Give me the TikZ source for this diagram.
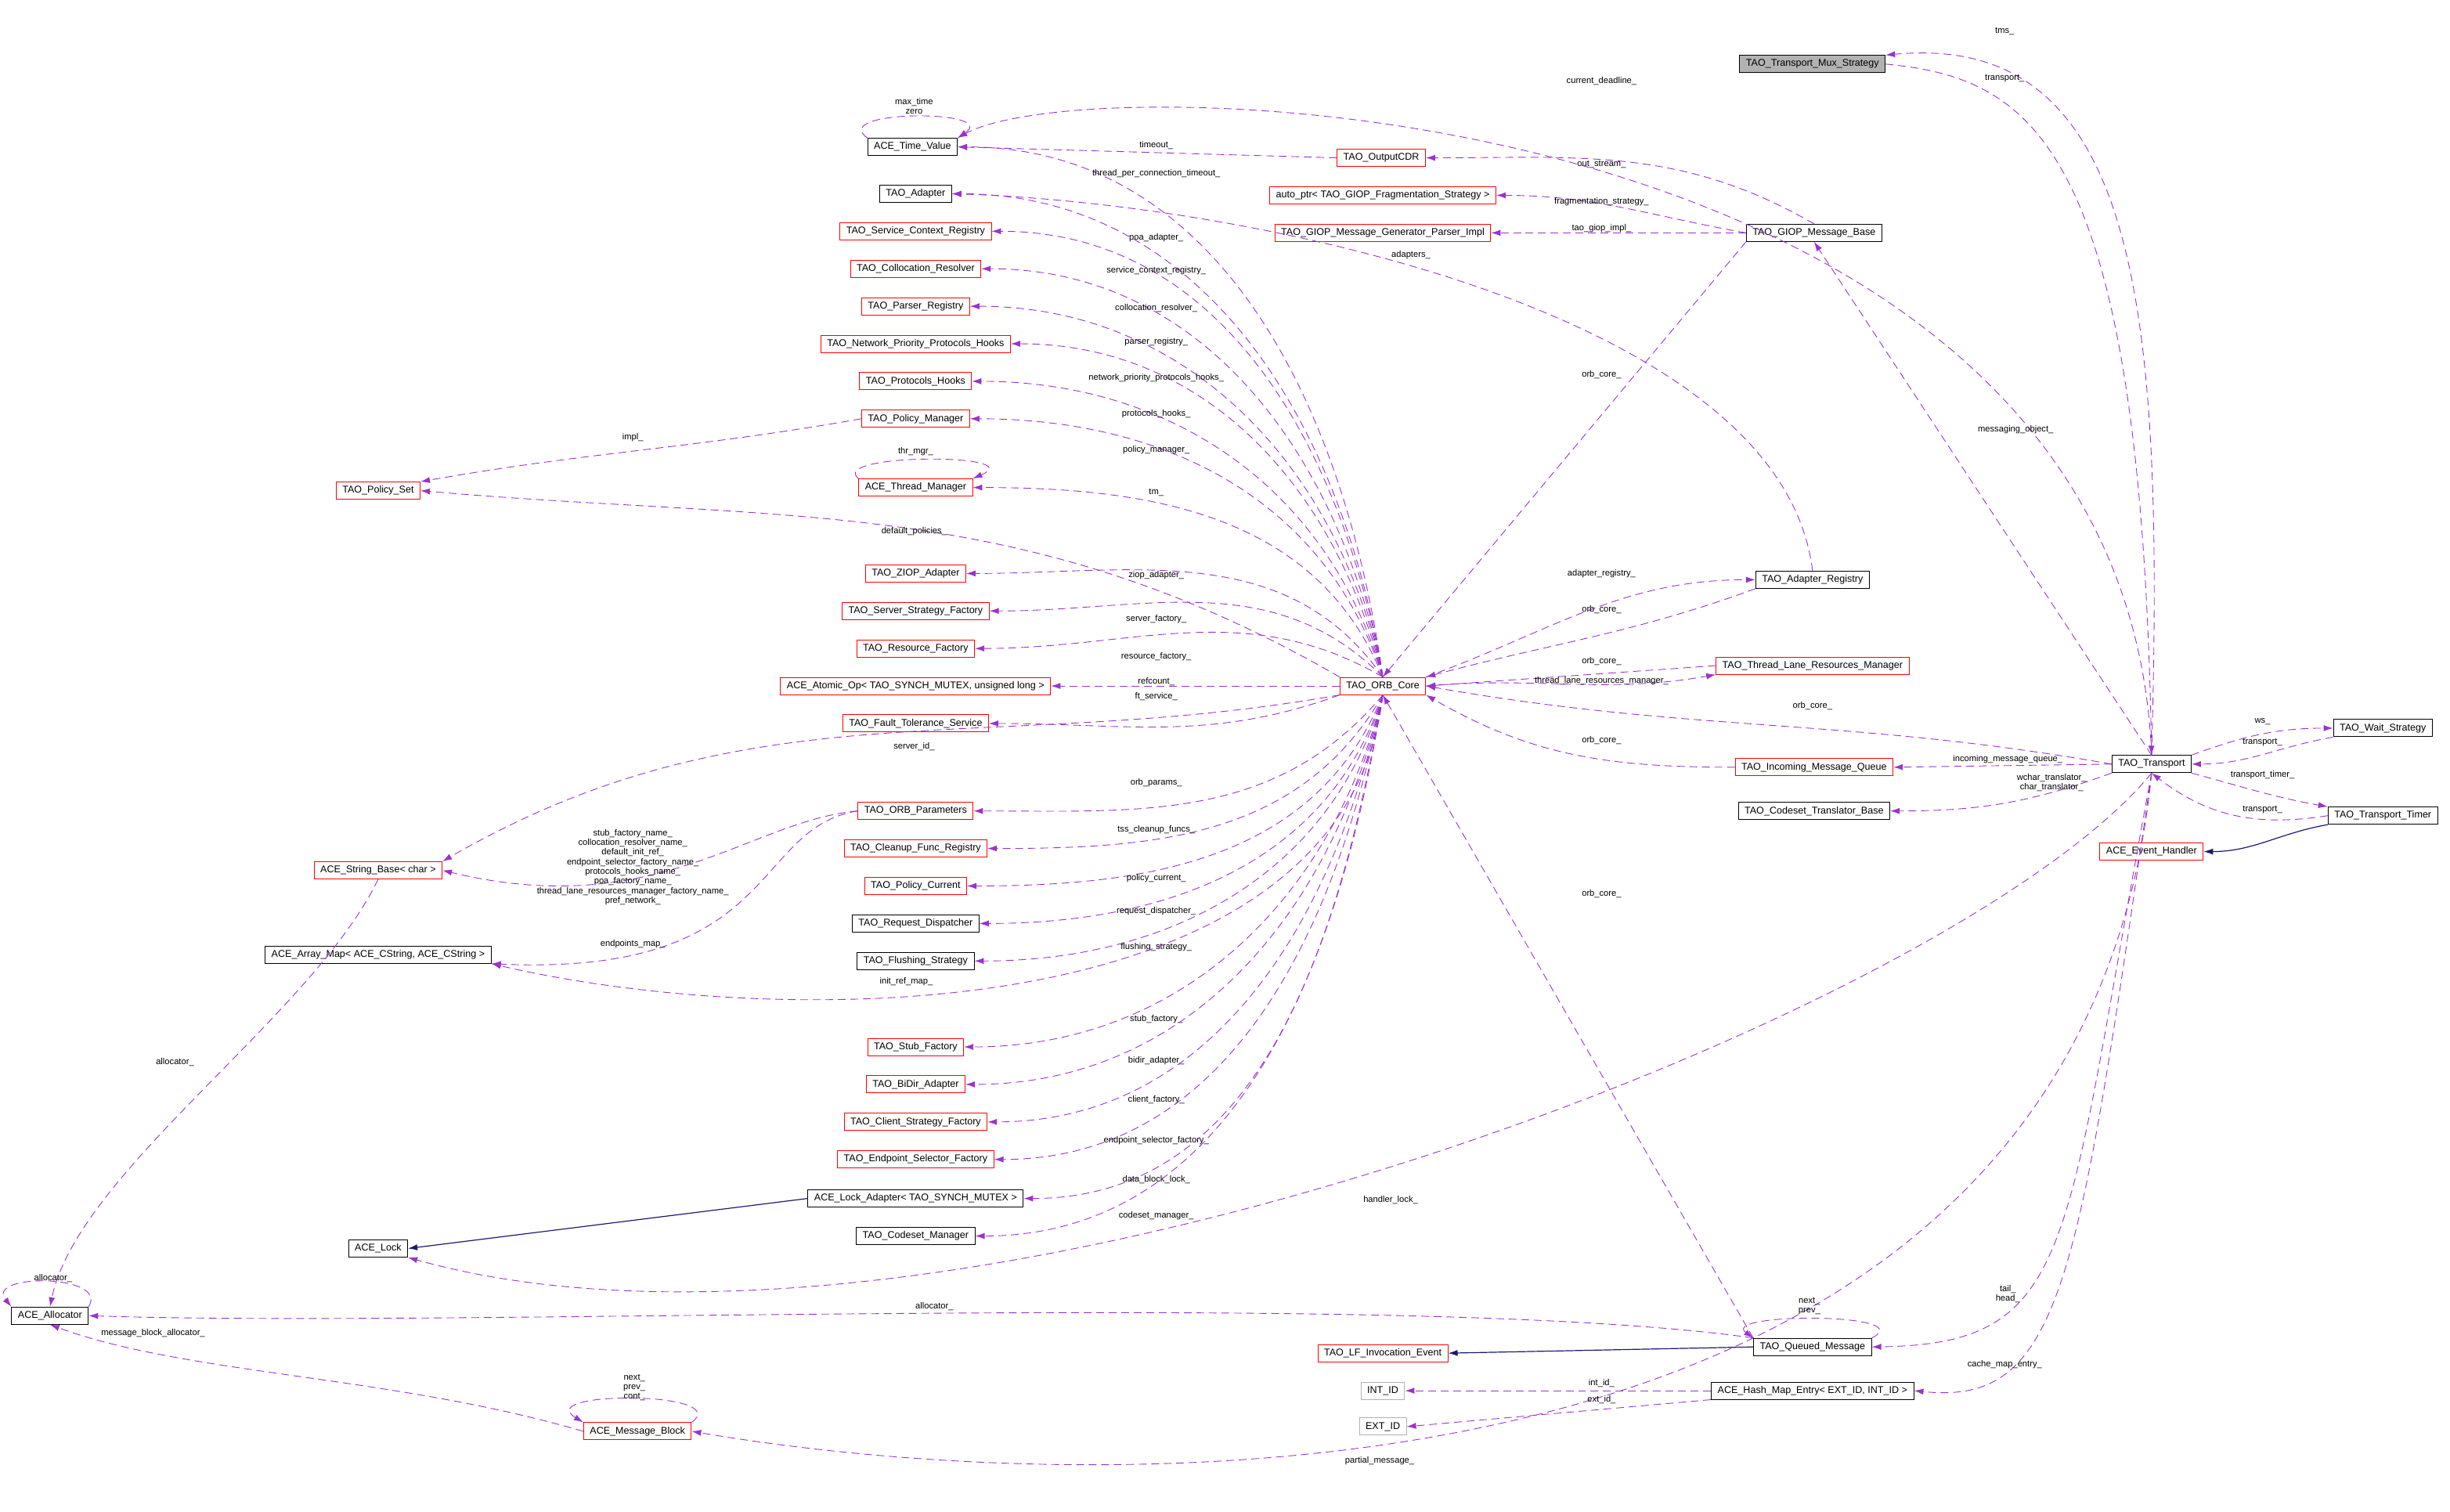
\documentclass[tikz,border=0pt]{standalone}
\usepackage{fontspec}
\setmainfont{Liberation Sans}
\usetikzlibrary{arrows.meta}
\definecolor{dpurple}{HTML}{9A32CD}
\definecolor{dnavy}{HTML}{191970}
\begin{document}
\begin{tikzpicture}[x=1pt,y=-1pt,
 box/.style={draw=black,line width=0.5pt,inner xsep=4pt,inner ysep=0pt,minimum height=11pt,font=\fontsize{6.3}{7}\selectfont,fill=white},
 rbox/.style={box,draw=red},
 gbox/.style={box,draw=gray!60},
 dep/.style={draw=dpurple,line width=0.45pt,dash pattern=on 5pt off 3pt,-{Latex[length=6pt,width=4pt]}},
 inh/.style={draw=dnavy,line width=0.6pt,-{Latex[length=6pt,width=4pt]}},
 lbl/.style={font=\fontsize{5.6}{6.2}\selectfont,inner sep=0pt,align=center}]
\useasboundingbox (0,0) rectangle (1568,967.6);
% nodes
\node[box,fill=gray!60] (mux) at (1160,41) {TAO\_Transport\_Mux\_Strategy};
\node[box] (tv) at (584,94) {ACE\_Time\_Value};
\node[rbox] (cdr) at (884,101) {TAO\_OutputCDR};
\node[box] (adp) at (586,124) {TAO\_Adapter};
\node[rbox] (aptr) at (885,125) {auto\_ptr< TAO\_GIOP\_Fragmentation\_Strategy >};
\node[rbox] (gen) at (885,149) {TAO\_GIOP\_Message\_Generator\_Parser\_Impl};
\node[box] (giop) at (1161,149) {TAO\_GIOP\_Message\_Base};
\node[rbox] (scr) at (586,148) {TAO\_Service\_Context\_Registry};
\node[rbox] (col) at (586,172) {TAO\_Collocation\_Resolver};
\node[rbox] (par) at (586,196) {TAO\_Parser\_Registry};
\node[rbox] (npp) at (586,220) {TAO\_Network\_Priority\_Protocols\_Hooks};
\node[rbox] (ph) at (586,244) {TAO\_Protocols\_Hooks};
\node[rbox] (pm) at (586,268) {TAO\_Policy\_Manager};
\node[rbox] (ps) at (242,314) {TAO\_Policy\_Set};
\node[rbox] (thm) at (586,312) {ACE\_Thread\_Manager};
\node[rbox] (ziop) at (586,367) {TAO\_ZIOP\_Adapter};
\node[rbox] (ssf) at (586,391) {TAO\_Server\_Strategy\_Factory};
\node[rbox] (rf) at (586,415) {TAO\_Resource\_Factory};
\node[rbox] (atom) at (586,439) {ACE\_Atomic\_Op< TAO\_SYNCH\_MUTEX, unsigned long >};
\node[rbox] (ft) at (586,463) {TAO\_Fault\_Tolerance\_Service};
\node[rbox] (core) at (885,439) {TAO\_ORB\_Core};
\node[box] (ar) at (1160,371) {TAO\_Adapter\_Registry};
\node[rbox] (tl) at (1160,426) {TAO\_Thread\_Lane\_Resources\_Manager};
\node[rbox] (imq) at (1161,491) {TAO\_Incoming\_Message\_Queue};
\node[box] (ctb) at (1161,519) {TAO\_Codeset\_Translator\_Base};
\node[box] (tr) at (1377,489) {TAO\_Transport};
\node[box] (ws) at (1525,466) {TAO\_Wait\_Strategy};
\node[box] (tt) at (1525,522) {TAO\_Transport\_Timer};
\node[rbox] (eh) at (1377,545) {ACE\_Event\_Handler};
\node[rbox] (sb) at (242,557) {ACE\_String\_Base< char >};
\node[rbox] (op) at (586,519) {TAO\_ORB\_Parameters};
\node[rbox] (cfr) at (586,543) {TAO\_Cleanup\_Func\_Registry};
\node[rbox] (pc) at (586,567) {TAO\_Policy\_Current};
\node[box] (rd) at (586,591) {TAO\_Request\_Dispatcher};
\node[box] (am) at (242,611) {ACE\_Array\_Map< ACE\_CString, ACE\_CString >};
\node[box] (fs) at (586,615) {TAO\_Flushing\_Strategy};
\node[rbox] (sf) at (586,670) {TAO\_Stub\_Factory};
\node[rbox] (bd) at (586,694) {TAO\_BiDir\_Adapter};
\node[rbox] (csf) at (586,718) {TAO\_Client\_Strategy\_Factory};
\node[rbox] (esf) at (586,742) {TAO\_Endpoint\_Selector\_Factory};
\node[box] (la) at (586,767) {ACE\_Lock\_Adapter< TAO\_SYNCH\_MUTEX >};
\node[box] (cm) at (586,791) {TAO\_Codeset\_Manager};
\node[box] (lock) at (242,799) {ACE\_Lock};
\node[box] (alloc) at (32,842) {ACE\_Allocator};
\node[rbox] (lf) at (885,866) {TAO\_LF\_Invocation\_Event};
\node[box] (qm) at (1160,862) {TAO\_Queued\_Message};
\node[gbox] (iid) at (885,890) {INT\_ID};
\node[gbox] (eid) at (885,913) {EXT\_ID};
\node[box] (hme) at (1160,890) {ACE\_Hash\_Map\_Entry< EXT\_ID, INT\_ID >};
\node[rbox] (mb) at (408,916) {ACE\_Message\_Block};
% ORB_Core edges to the left (above)
\foreach \t/\a/\txt/\lx/\ly in {tv/98/thread\_per\_connection\_timeout\_/740/111,
 adp/99/poa\_adapter\_/740/152, scr/100/service\_context\_registry\_/740/173,
 col/101/collocation\_resolver\_/740/197, par/102/parser\_registry\_/740/219,
 npp/104/network\_priority\_protocols\_hooks\_/740/242, ph/106/protocols\_hooks\_/740/265,
 pm/108/policy\_manager\_/740/288, thm/112/tm\_/740/315, ziop/125/ziop\_adapter\_/740/368,
 ssf/135/server\_factory\_/740/396, rf/150/resource\_factory\_/740/420}
 { \draw[dep] (core.north) to[out=\a,in=0] (\t.east);
   \node[lbl] (l\t) at (\lx,\ly) {\txt}; }
\draw[dep] (core.north west) to[out=150,in=-5] (ps.east);
\node[lbl] (lps) at (585,340) {default\_policies\_};
\draw[dep] (core.west) -- (atom.east);
\node[lbl] (latom) at (740,436) {refcount\_};
\draw[dep] (core.south west) to[out=200,in=0] (ft.east);
\node[lbl] (lft) at (740,446) {ft\_service\_};
\draw[dep] (core.south west) to[out=190,in=30] (sb.north east);
\node[lbl] (lsb) at (585,478) {server\_id\_};
% ORB_Core edges to the left (below)
\foreach \t/\a/\txt/\lx/\ly in {op/230/orb\_params\_/740/501,
 cfr/240/tss\_cleanup\_funcs\_/740/531, pc/248/policy\_current\_/740/562,
 rd/252/request\_dispatcher\_/740/583, fs/254/flushing\_strategy\_/740/606,
 sf/256/stub\_factory\_/740/652, bd/257/bidir\_adapter\_/740/679,
 csf/258/client\_factory\_/740/704, esf/259/endpoint\_selector\_factory\_/740/730,
 la/260/data\_block\_lock\_/740/755, cm/261/codeset\_manager\_/740/778}
 { \draw[dep] (core.south) to[out=\a,in=0] (\t.east);
   \node[lbl] (l\t) at (\lx,\ly) {\txt}; }
\draw[dep] (core.south) .. controls (860,660) and (500,660) .. (am.south east);
\node[lbl] (lam) at (580,628) {init\_ref\_map\_};
% right side around core
\draw[dep] (core.north east) to[out=20,in=180] (ar.west);
\node[lbl] (lar1) at (1025,367) {adapter\_registry\_};
\draw[dep] (ar.south west) to[out=200,in=15] (core.north east);
\node[lbl] (lar2) at (1025,390) {orb\_core\_};
\draw[dep] (ar.north) .. controls (1140,200) and (800,130) .. (adp.east);
\node[lbl] (lar3) at (903,163) {adapters\_};
\draw[dep] (tl.west) -- (core.east);
\node[lbl] (ltl1) at (1025,423) {orb\_core\_};
\draw[dep] (core.east) to[out=5,in=190] (tl.south west);
\node[lbl] (ltl2) at (1025,436) {thread\_lane\_resources\_manager\_};
\draw[dep] (imq.west) to[out=180,in=-30] (core.south east);
\node[lbl] (limq) at (1025,474) {orb\_core\_};
\draw[dep] (giop.south west) -- (core.north);
\node[lbl] (lgiop) at (1025,240) {orb\_core\_};
\draw[dep] (giop.north) to[out=150,in=0] (cdr.east);
\node[lbl] (lcdr) at (1025,105) {out\_stream\_};
\draw[dep] (giop.west) to[out=170,in=0] (aptr.east);
\node[lbl] (laptr) at (1025,129) {fragmentation\_strategy\_};
\draw[dep] (giop.west) -- (gen.east);
\node[lbl] (lgen) at (1025,146) {tao\_giop\_impl\_};
\draw[dep] (cdr.west) -- (tv.east);
\node[lbl] (ltv) at (740,93) {timeout\_};
\draw[dep] (tv.north west) .. controls (530,70) and (640,70) .. (tv.north east);
\node[lbl] (ltv2) at (585,68) {max\_time\\zero};
\draw[dep] (pm.west) to[out=190,in=10] (ps.north east);
\node[lbl] (lpm) at (405,280) {impl\_};
\draw[dep] (thm.north west) .. controls (530,290) and (660,290) .. (thm.north east);
\node[lbl] (lthm) at (586,289) {thr\_mgr\_};
% ORB_Parameters
\draw[dep] (op.west) .. controls (480,525) and (420,590) .. (sb.east);
\node[lbl] (lop1) at (405,555) {stub\_factory\_name\_\\collocation\_resolver\_name\_\\default\_init\_ref\_\\endpoint\_selector\_factory\_name\_\\protocols\_hooks\_name\_\\poa\_factory\_name\_\\thread\_lane\_resources\_manager\_factory\_name\_\\pref\_network\_};
\draw[dep] (op.west) .. controls (480,530) and (500,625) .. (am.south east);
\node[lbl] (lop2) at (405,604) {endpoints\_map\_};
\draw[dep] (sb.south) .. controls (200,650) and (50,750) .. (alloc.north);
\node[lbl] (lsb2) at (112,680) {allocator\_};
\draw[dep] (alloc.north east) .. controls (70,815) and (-10,815) .. (alloc.north west);
\node[lbl] (lal) at (34,818) {allocator\_};
\draw[inh] (la.west) -- (lock.east);
% Transport edges
\draw[dep] (tr.north) .. controls (1385,200) and (1370,20) .. (mux.north east);
\node[lbl] (lmux1) at (1283,20) {tms\_};
\draw[dep] (mux.east) .. controls (1300,50) and (1370,90) .. (tr.north);
\node[lbl] (lmux2) at (1283,50) {transport\_};
\draw[dep] (tr.north) .. controls (1360,60) and (700,40) .. (tv.north east);
\node[lbl] (ltr1) at (1025,52) {current\_deadline\_};
\draw[dep] (tr.north) -- (giop.south);
\node[lbl] (ltr2) at (1290,275) {messaging\_object\_};
\draw[dep] (tr.west) to[out=170,in=-10] (core.east);
\node[lbl] (ltr3) at (1160,452) {orb\_core\_};
\draw[dep] (tr.west) -- (imq.east);
\node[lbl] (ltr4) at (1285,486) {incoming\_message\_queue\_};
\draw[dep] (tr.south west) to[out=200,in=0] (ctb.east);
\node[lbl] (ltr5) at (1313,501) {wchar\_translator\_\\char\_translator\_};
\draw[dep] (tr.north east) to[out=20,in=180] (ws.west);
\node[lbl] (lws1) at (1448,462) {ws\_};
\draw[dep] (ws.south west) to[out=190,in=0] (tr.east);
\node[lbl] (lws2) at (1448,475) {transport\_};
\draw[dep] (tr.south east) to[out=-15,in=170] (tt.north west);
\node[lbl] (ltt1) at (1448,496) {transport\_timer\_};
\draw[dep] (tt.west) .. controls (1440,530) and (1410,520) .. (tr.south);
\node[lbl] (ltt2) at (1448,518) {transport\_};
\draw[inh] (tt.south west) to[out=190,in=0] (eh.east);
\draw[dep] (tr.south) .. controls (1250,650) and (600,900) .. (lock.south east);
\node[lbl] (ltr6) at (890,768) {handler\_lock\_};
\draw[dep] (tr.south) .. controls (1320,800) and (1330,860) .. (qm.east);
\node[lbl] (ltr7) at (1285,828) {tail\_\\head\_};
\draw[dep] (tr.south) .. controls (1330,820) and (1320,900) .. (hme.east);
\node[lbl] (ltr8) at (1283,873) {cache\_map\_entry\_};
\draw[dep] (tr.south) .. controls (1330,980) and (700,960) .. (mb.east);
\node[lbl] (ltr9) at (883,935) {partial\_message\_};
% Queued message, hash, block
\draw[dep] (qm.north west) -- (core.south);
\node[lbl] (lqm1) at (1025,572) {orb\_core\_};
\draw[dep] (qm.north west) .. controls (900,825) and (300,850) .. (alloc.east);
\node[lbl] (lqm2) at (598,836) {allocator\_};
\draw[dep] (qm.north east) .. controls (1230,840) and (1100,840) .. (qm.north west);
\node[lbl] (lqm3) at (1158,836) {next\_\\prev\_};
\draw[inh] (qm.west) -- (lf.east);
\draw[dep] (hme.west) -- (iid.east);
\node[lbl] (lh1) at (1025,885) {int\_id\_};
\draw[dep] (hme.south west) -- (eid.east);
\node[lbl] (lh2) at (1025,896) {ext\_id\_};
\draw[dep] (mb.west) .. controls (250,880) and (120,880) .. (alloc.south);
\node[lbl] (lmb1) at (98,853) {message\_block\_allocator\_};
\draw[dep] (mb.north east) .. controls (470,890) and (340,890) .. (mb.north west);
\node[lbl] (lmb2) at (406,888) {next\_\\prev\_\\cont\_};
\end{tikzpicture}
\end{document}
